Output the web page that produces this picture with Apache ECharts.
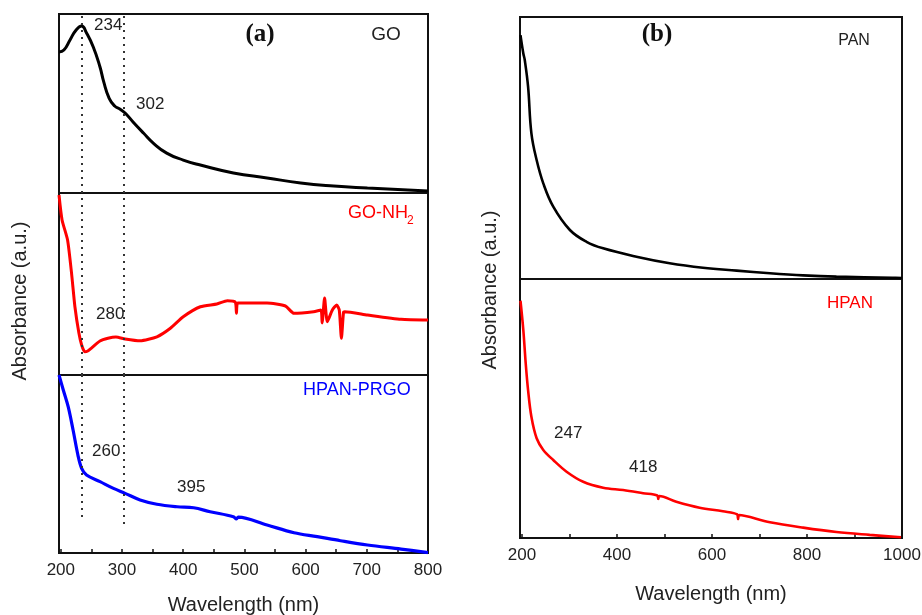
<!DOCTYPE html>
<html>
<head>
<meta charset="utf-8">
<script src="https://cdn.jsdelivr.net/npm/echarts@6/dist/echarts.min.js"></script>
<style>
html,body{margin:0;padding:0;background:#fff;}
#chart{width:922px;height:615px;}
</style>
</head>
<body>
<div id="chart"></div>
<script>
// ---- Panel (a) data ----
const goWl  = [197,205,215,225,234,242,253,264,270,279,288,297,305,318,335,351,373,400,428,482,537,592,646,701,800];
const goAbs = [78.8,79.9,85.5,91.1,93.3,89.4,81.6,70.4,62.2,52.9,48.6,46.8,44.7,39.7,33.5,27.9,22.3,18.4,15.6,11.2,8.4,5.6,3.9,2.8,1.1];

const nh2Wl  = [197,202,211,217.5,223,229.5,234,239,244,250,264,277,290,305,329.5,357,379,400,428,455,472,485,487,489,510,537,567,581,613,625,627,631,635.5,643.7,650.8,655,658.5,662,664,701,756,800];
const nh2Abs = [98.9,85.2,74.2,56.0,37.5,23.1,16.5,12.8,13.2,14.8,18.7,20.2,20.9,19.8,18.8,21.0,25.7,32.0,37.5,39.0,40.8,40.1,33.9,39.6,39.6,39.6,37.9,33.9,34.8,35.7,28.6,42.3,29.3,35.7,38.5,35.7,20.2,34.6,34.8,33.0,30.6,30.2];

const prgoWl  = [197,204,212,220,228,234,242,264,286,305,329.5,357,390,417,444,482,487,490,537,581,619,657,701,756,800];
const prgoAbs = [100,91.6,82.2,69.1,54.9,47.6,43.8,40.1,36.3,33.5,29.8,27.4,26.0,25.4,23.2,20.4,19.1,20.2,15.7,11.4,9.2,6.9,4.5,2.2,0.2];

// ---- Panel (b) data ----
const panWl  = [197,203,206,213,220,231,245,266,301,336,371,441,511,581,652,722,792,862,980,1000];
const panAbs = [93.1,86.1,83.6,73.4,55.6,45.4,36.5,27.6,18.7,14.2,11.7,8.5,6.0,4.3,3.2,2.2,1.4,0.9,0.5,0.4];

const hpanWl  = [197,203,208,213,220,231,245,266,294,329,371,413,455,485,487,489,525,574,623,653,655,657,722,792,862,932,998];
const hpanAbs = [91.6,80.3,67.5,57.1,46.8,38.5,34.0,30.1,25.6,21.7,19.4,18.5,17.3,16.4,15.1,16.2,14.0,11.7,10.3,9.1,7.3,8.9,6.1,4.0,2.3,1.2,0.3];

// ---- Axis ticks / labels ----
const aTicks  = [200,250,300,350,400,450,500,550,600,650,700,750,800];
const aLabels = [200,300,400,500,600,700,800];
const bTicks  = [200,300,400,500,600,700,800,900,1000];
const bLabels = [200,400,600,800,1000];

// peak marker lines in panel (a) and where they end in the bottom sub-panel
const peakLines = [234, 302];
const peakLineEnds = [19.7, 14.0];

const zip = (a, b) => a.map((v, i) => [v, b[i]]);

const FONT = '"Liberation Sans", Arial, Helvetica, sans-serif';
const TXT = '#222';

const grids = [
  {left: 59,  top: 14,  width: 369, height: 179},
  {left: 59,  top: 193, width: 369, height: 182},
  {left: 59,  top: 375, width: 369, height: 178},
  {left: 520, top: 17,  width: 382, height: 262},
  {left: 520, top: 279, width: 382, height: 259}
].map(g => Object.assign({show: true, borderColor: '#111', borderWidth: 2, backgroundColor: 'transparent',
  containLabel: false, outerBoundsMode: 'none'}, g));

function xAx(gi, min, max, ticks, labels, showLabels, gap) {
  return {
    type: 'value', gridIndex: gi, min: min, max: max,
    axisLine: {show: false},
    splitLine: {show: false},
    axisTick: showLabels ? {show: true, inside: true, length: 4, lineStyle: {color: '#111', width: 1.5}, customValues: ticks} : {show: false},
    axisLabel: showLabels ? {show: true, customValues: labels, fontSize: 17, color: TXT, fontFamily: FONT, margin: 9,
      formatter: v => String(v), hideOverlap: false} : {show: false},
    name: showLabels ? 'Wavelength (nm)' : '',
    nameLocation: 'middle',
    nameGap: gap || 0,
    nameMoveOverlap: false,
    nameTextStyle: {fontSize: 20, color: TXT, fontFamily: FONT}
  };
}
function yAx(gi) {
  return {type: 'value', gridIndex: gi, min: 0, max: 100,
    axisLine: {show: false}, axisTick: {show: false}, axisLabel: {show: false}, splitLine: {show: false}};
}

const dotStyle = {color: '#333', type: [2, 5], width: 2};
function fullLines() {
  return {silent: true, symbol: ['none', 'none'], label: {show: false}, lineStyle: dotStyle,
    data: peakLines.map(v => ({xAxis: v}))};
}
function partLines() {
  return {silent: true, symbol: ['none', 'none'], label: {show: false}, lineStyle: dotStyle,
    data: peakLines.map((v, i) => [{coord: [v, 100]}, {coord: [v, peakLineEnds[i]]}])};
}

function lineSeries(xi, data, color, width, smooth, ml) {
  const s = {type: 'line', xAxisIndex: xi, yAxisIndex: xi, data: data, showSymbol: false, symbol: 'none',
    smooth: smooth, lineStyle: {color: color, width: width}, clip: true, z: 3};
  if (ml) s.markLine = ml;
  return s;
}

function txt(x, y, text, opts) {
  return {type: 'text', x: x, y: y, z: 100, style: Object.assign({text: text, fill: TXT,
    font: '17px ' + FONT, textAlign: 'left', textVerticalAlign: 'middle'}, opts || {})};
}

const option = {
  animation: false,
  backgroundColor: '#fff',
  grid: grids,
  xAxis: [
    xAx(0, 197, 800, aTicks, aLabels, false),
    xAx(1, 197, 800, aTicks, aLabels, false),
    xAx(2, 197, 800, aTicks, aLabels, true, 42),
    xAx(3, 196, 1000, bTicks, bLabels, false),
    xAx(4, 196, 1000, bTicks, bLabels, true, 46)
  ],
  yAxis: [yAx(0), yAx(1), yAx(2), yAx(3), yAx(4)],
  series: [
    lineSeries(0, zip(goWl, goAbs), '#000', 3, 0.5, fullLines()),
    lineSeries(1, zip(nh2Wl, nh2Abs), '#ff0000', 3, 0.2, fullLines()),
    lineSeries(2, zip(prgoWl, prgoAbs), '#0000ff', 3.2, 0.35, partLines()),
    lineSeries(3, zip(panWl, panAbs), '#000', 2.6, 0.4, null),
    lineSeries(4, zip(hpanWl, hpanAbs), '#ff0000', 2.6, 0.35, null)
  ],
  graphic: [
    // panel (a)
    txt(94, 25, '234'),
    txt(136, 104, '302'),
    txt(260, 35, '(a)', {font: 'bold 25px "Liberation Serif", "Times New Roman", serif', textAlign: 'center', fill: '#111'}),
    txt(386, 35, 'GO', {font: '19px ' + FONT, textAlign: 'center'}),
    txt(348, 213, 'GO-NH', {font: '18px ' + FONT, fill: '#ff0000'}),
    txt(407, 221, '2', {font: '12px ' + FONT, fill: '#ff0000'}),
    txt(96, 314, '280'),
    txt(303, 390, 'HPAN-PRGO', {font: '18px ' + FONT, fill: '#0000ff'}),
    txt(92, 451, '260'),
    txt(177, 487, '395'),
    {type: 'text', x: 20, y: 301, rotation: Math.PI / 2, z: 100,
      style: {text: 'Absorbance (a.u.)', fill: TXT, font: '20px ' + FONT, textAlign: 'center', textVerticalAlign: 'middle'}},
    // panel (b)
    txt(657, 35, '(b)', {font: 'bold 25px "Liberation Serif", "Times New Roman", serif', textAlign: 'center', fill: '#111'}),
    txt(854, 41, 'PAN', {font: '16px ' + FONT, textAlign: 'center'}),
    txt(827, 303, 'HPAN', {font: '17px ' + FONT, fill: '#ff0000'}),
    txt(554, 433, '247'),
    txt(629, 467, '418'),
    {type: 'text', x: 490, y: 290, rotation: Math.PI / 2, z: 100,
      style: {text: 'Absorbance (a.u.)', fill: TXT, font: '20px ' + FONT, textAlign: 'center', textVerticalAlign: 'middle'}}
  ]
};

const chart = echarts.init(document.getElementById('chart'), null, {renderer: 'canvas'});
chart.setOption(option);
</script>
</body>
</html>
